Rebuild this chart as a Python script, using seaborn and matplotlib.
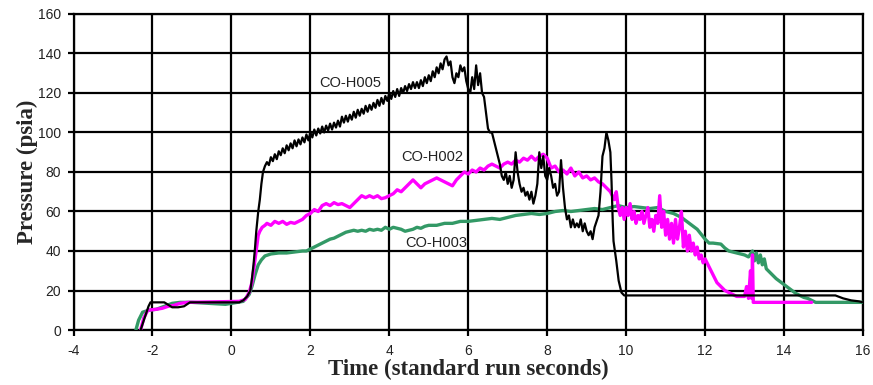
import matplotlib
matplotlib.use("Agg")
import matplotlib.pyplot as plt
import seaborn as sns

# ---------------- data ----------------
h005_t = [-2.30, -2.20, -2.10, -2.05, -1.70, -1.62, -1.50, -1.35, -1.20, -1.05, 0.20, 0.30, 0.40, 0.48,
          0.52, 0.56, 0.60, 0.63, 0.68, 0.72, 0.76, 0.80, 0.85,
          0.90, 0.95, 1.00, 1.05, 1.10, 1.15, 1.20, 1.25, 1.30, 1.35, 1.40, 1.45, 1.50, 1.55, 1.60, 1.65,
          1.70, 1.75, 1.80, 1.85, 1.90, 1.95, 2.00, 2.05, 2.10, 2.15, 2.20, 2.25, 2.30, 2.35, 2.40, 2.45,
          2.50, 2.55, 2.60, 2.65, 2.70, 2.75, 2.80, 2.85, 2.90, 2.95, 3.00, 3.05, 3.10, 3.15, 3.20, 3.25,
          3.30, 3.35, 3.40, 3.45, 3.50, 3.55, 3.60, 3.65, 3.70, 3.75, 3.80, 3.85, 3.90, 3.95, 4.00, 4.05,
          4.10, 4.15, 4.20, 4.25, 4.30, 4.35, 4.40, 4.45, 4.50, 4.55, 4.60, 4.65, 4.70, 4.75, 4.80, 4.85,
          4.90, 4.95, 5.00, 5.05, 5.10, 5.15, 5.20, 5.25, 5.30, 5.35, 5.40, 5.45,
          5.50, 5.55, 5.60, 5.65, 5.70, 5.75, 5.80, 5.85, 5.90, 5.95,
          6.00, 6.05, 6.10, 6.15, 6.20, 6.25, 6.30, 6.35, 6.40, 6.45, 6.50, 6.55, 6.60, 6.65, 6.70, 6.75,
          6.80, 6.85, 6.90, 6.95, 7.00, 7.05, 7.10, 7.15, 7.20, 7.25, 7.30, 7.35, 7.40, 7.45, 7.50, 7.55,
          7.60, 7.65, 7.70, 7.75, 7.80, 7.85, 7.90, 7.95, 8.00, 8.05, 8.10, 8.15, 8.20, 8.25, 8.30, 8.35,
          8.40, 8.45, 8.50, 8.55, 8.60, 8.65, 8.70, 8.75, 8.80, 8.85, 8.90, 8.95, 9.00, 9.05, 9.10, 9.15,
          9.20, 9.25, 9.30, 9.35, 9.40, 9.45, 9.50, 9.55, 9.60, 9.63, 9.66, 9.68, 9.75, 9.81, 9.88, 9.95,
          12.0, 15.3, 15.5, 15.7, 15.9, 16.0]
h005_p = [0, 6, 12, 14, 14, 13, 11.5, 11.5, 12, 14, 14, 15, 17, 20,
          26, 33, 42, 50, 60, 66, 74, 80, 83,
          85, 83.5, 87.5, 85.5, 89, 86.5, 90.5, 88.5, 92, 89.5, 93.5, 91, 94.5, 92, 96, 93,
          96.5, 94, 97.5, 95, 99, 96, 100, 97.5, 101.5, 98.5, 102, 99.5, 103, 100, 103.5, 101,
          104.5, 101.5, 105, 102.5, 106, 103, 108, 105, 108.5, 105.5, 109, 106.5, 110.5, 107.5, 111.5, 108.5,
          112, 109.5, 113.5, 110.5, 114, 111.5, 115, 112.5, 116.5, 113.5, 117.5, 114.5, 118.5, 116, 120, 117,
          121, 118, 122, 118.5, 122.5, 120, 123.5, 121, 124.5, 122, 125.5, 122.5, 125.5, 122.5, 126.5, 123.5,
          128, 125, 129, 126, 131, 128, 133, 130, 135, 132, 137, 138.5,
          134, 136, 128, 125, 130, 128, 134, 131, 133, 126,
          122, 120, 128, 122, 134, 124, 130, 120, 118, 110, 102, 100, 100, 96, 92, 88,
          84, 78, 76, 80, 74, 78, 72, 76, 90, 80, 74, 70, 72, 68, 70, 66,
          70, 64, 68, 74, 90, 82, 88, 78, 76, 82, 78, 72, 74, 68, 70, 86,
          72, 62, 56, 58, 52, 56, 52, 54, 52, 56, 50, 54, 50, 48, 50, 46,
          52, 55, 58, 70, 88, 92, 100, 96, 90, 75, 55, 45, 35, 25, 19, 17.5,
          17.5, 17.5, 16, 15, 14.5, 14]

h002_t = [-2.30, -2.22, -2.12, -1.90, -1.75, -1.60, -1.45, -1.30, -1.10, 0.20, 0.35, 0.45, 0.52, 0.56,
          0.60, 0.64, 0.68, 0.72, 0.78, 0.85,
          0.90, 1.00, 1.10, 1.20, 1.30, 1.40, 1.50, 1.60, 1.70, 1.80, 1.90, 2.00, 2.10, 2.20, 2.30, 2.40,
          2.50, 2.60, 2.70, 2.80, 2.90, 3.00, 3.10, 3.20, 3.30, 3.40, 3.50, 3.60, 3.70, 3.80, 3.90, 4.00,
          4.10, 4.20, 4.30, 4.40, 4.50, 4.60, 4.70, 4.80, 4.90, 5.00, 5.10, 5.20, 5.30, 5.40, 5.50, 5.60,
          5.70, 5.80, 5.90, 6.00, 6.10, 6.20, 6.30, 6.40, 6.50, 6.60, 6.70, 6.80, 6.90, 7.00, 7.10, 7.20,
          7.30, 7.40, 7.50, 7.60, 7.70, 7.80, 7.90, 8.00, 8.10, 8.20, 8.30, 8.40, 8.50, 8.60, 8.70, 8.80,
          8.90, 9.00, 9.10, 9.20, 9.30, 9.40, 9.50, 9.60, 9.70, 9.75, 9.80, 9.85, 9.90, 9.95, 10.00, 10.05,
          10.10, 10.15, 10.20, 10.25, 10.30, 10.35, 10.40, 10.45, 10.50, 10.55, 10.60, 10.65, 10.70, 10.75,
          10.80, 10.85, 10.90, 10.95, 11.00, 11.05, 11.10, 11.15, 11.20, 11.25, 11.30, 11.35, 11.40, 11.45,
          11.50, 11.55, 11.60, 11.65, 11.70, 11.75, 11.80, 11.85, 11.90, 11.95, 12.00, 12.10, 12.20, 12.30,
          12.40, 12.50, 12.60, 12.70, 12.80, 12.90, 13.00, 13.05, 13.10, 13.15, 13.18, 13.20, 13.22, 13.30,
          14.70]
h002_p = [0, 6, 10, 10.5, 11, 12, 12.5, 13.5, 14, 14.5, 15.5, 19, 24, 30,
          36, 42, 48, 50, 52, 53,
          54, 53, 55, 54, 55, 53.5, 54.5, 54, 55, 56, 58, 59, 61, 60, 63, 64,
          63, 64.5, 63.5, 64, 63, 62, 64, 66, 68, 67, 68, 67, 68, 66.5, 67, 68,
          69, 71, 70, 72, 74, 76, 74, 72, 74, 75, 76, 77, 76, 75, 74, 73,
          76, 78, 80, 79, 81, 80, 82, 81, 83, 84, 83, 82, 84, 85, 84, 86,
          85, 87, 86, 88, 86, 88, 89, 87, 82, 83, 80, 81, 79, 82, 78, 80,
          77, 78, 76, 77, 75, 74, 72, 70, 66, 70, 62, 58, 62, 56, 62, 58,
          64, 56, 60, 54, 58, 56, 60, 54, 58, 62, 52, 56, 50, 58,
          54, 68, 52, 60, 48, 56, 46, 54, 44, 56, 46, 52, 60, 42,
          50, 40, 48, 40, 44, 38, 42, 36, 38, 34, 36, 32, 28, 24,
          22, 20, 19, 18, 17, 17, 17, 22, 16, 30, 16, 38, 14, 14,
          14]

h003_t = [-2.42, -2.35, -2.25, -2.10, -1.90, -1.70, -1.50, -1.30, -1.00, -0.15, 0.00, 0.30, 0.45, 0.52,
          0.60, 0.68, 0.76, 0.85, 1.00, 1.20, 1.40, 1.60, 1.80, 1.90, 2.00, 2.10, 2.20, 2.30, 2.40, 2.50,
          2.60, 2.70, 2.80, 2.90, 3.00, 3.10, 3.20, 3.30, 3.40, 3.50, 3.60, 3.70, 3.80, 3.90, 4.00, 4.10,
          4.20, 4.30, 4.40, 4.50, 4.60, 4.70, 4.80, 4.90, 5.00, 5.20, 5.40, 5.60, 5.80, 6.00, 6.20, 6.40,
          6.60, 6.80, 7.00, 7.20, 7.40, 7.60, 7.80, 8.00, 8.20, 8.40, 8.60, 8.80, 9.00, 9.20, 9.40, 9.60,
          9.80, 10.00, 10.20, 10.40, 10.60, 10.80, 10.90, 11.00, 11.20, 11.40, 11.60, 11.80, 12.00, 12.10,
          12.20, 12.40, 12.50, 12.60, 12.80, 13.00, 13.10, 13.20, 13.25, 13.30, 13.35, 13.40, 13.45, 13.50,
          13.55, 13.60, 13.70, 13.80, 13.90, 14.00, 14.10, 14.20, 14.30, 14.40, 14.50, 14.60, 14.70, 14.80,
          16.00]
h003_p = [0, 5, 9, 10, 10.5, 12, 13.5, 14, 14, 13, 13.5, 14.5, 18, 22,
          28, 33, 35.5, 37.5, 38.5, 39, 39, 39.5, 40, 40, 41, 42, 43, 44, 45, 46,
          46.5, 47.5, 48.5, 49.5, 50, 50.5, 50, 50.5, 50, 51, 50.5, 51, 50.5, 52, 51, 52,
          51.5, 51, 50, 50.5, 51, 52, 51.5, 52.5, 53, 53, 54, 54, 55, 55, 55.5, 56,
          56.5, 56, 57, 58, 58.5, 59, 58.5, 59, 60, 60.5, 60, 60.5, 61, 61.5, 61, 62,
          63, 62, 62.5, 62, 61.5, 62, 61, 60, 59, 57, 54, 51, 46, 44,
          44, 43.5, 41.5, 40, 39, 38, 37, 40, 35, 39, 34, 38, 33, 36,
          31, 30, 28, 26, 24.5, 23, 21.5, 20, 18.5, 17.5, 16.5, 16, 15, 14,
          14]

x_ticks = [-4, -2, 0, 2, 4, 6, 8, 10, 12, 14, 16]
y_ticks = [0, 20, 40, 60, 80, 100, 120, 140, 160]
series_labels = ["CO-H005", "CO-H002", "CO-H003"]
x_label = "Time (standard run seconds)"
y_label = "Pressure (psia)"

# ---------------- plot ----------------
sns.set_style("white")
plt.rcParams["font.family"] = ["Liberation Sans", "DejaVu Sans"]

fig = plt.figure(figsize=(8.73, 3.85), dpi=100)
ax = fig.add_axes([73.5 / 873, 1 - 330 / 385, (863 - 73.5) / 873, (330 - 14) / 385])

green = "#339966"
magenta = "#FF00FF"

sns.lineplot(x=h003_t, y=h003_p, ax=ax, color=green, lw=2.4, sort=False, estimator=None, zorder=3)
sns.lineplot(x=h002_t, y=h002_p, ax=ax, color=magenta, lw=2.4, sort=False, estimator=None, zorder=4)
sns.lineplot(x=h005_t, y=h005_p, ax=ax, color="black", lw=1.6, sort=False, estimator=None, zorder=5)

ax.set_xlim(-4, 16)
ax.set_ylim(0, 160)
ax.set_xticks(x_ticks)
ax.set_yticks(y_ticks)
ax.set_xticklabels([str(v) for v in x_ticks])
ax.set_yticklabels([str(v) for v in y_ticks])
ax.grid(True, color="black", lw=1.6, zorder=1)
ax.set_axisbelow(True)
for s in ax.spines.values():
    s.set_color("black")
    s.set_linewidth(1.6)
ax.tick_params(axis="both", which="major", direction="out", length=4, width=1.6, color="black",
               bottom=True, left=True, labelsize=10, labelcolor="#222222")
ax.tick_params(axis="x", pad=6)
ax.tick_params(axis="y", pad=5)

ax.set_xlabel(x_label, fontfamily="Liberation Serif", fontweight="bold", fontsize=16.5, labelpad=1)
ax.set_ylabel(y_label, fontfamily="Liberation Serif", fontweight="bold", fontsize=16.5, labelpad=0)

ax.text(3.0, 125, series_labels[0], ha="center", va="center", fontsize=10.5, color="#222222", zorder=6)
ax.text(5.08, 87.5, series_labels[1], ha="center", va="center", fontsize=10.5, color="#222222", zorder=6)
ax.text(5.18, 43.8, series_labels[2], ha="center", va="center", fontsize=10.5, color="#222222", zorder=6)

fig.savefig("out.png", dpi=100)
